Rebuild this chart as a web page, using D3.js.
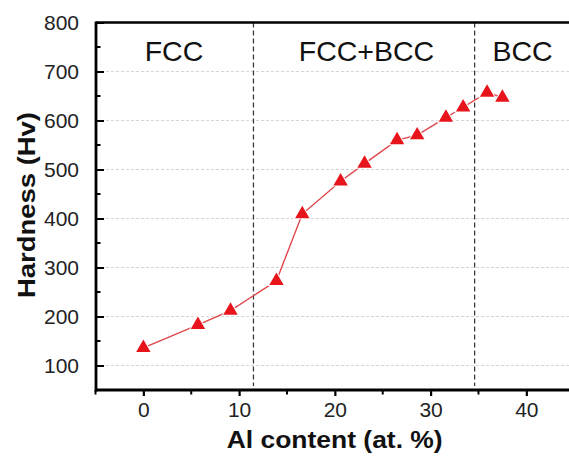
<!DOCTYPE html>
<html><head><meta charset="utf-8">
<script src="https://cdn.jsdelivr.net/npm/d3@7"></script>
<style>
html,body{margin:0;padding:0;background:#fff;}
svg{display:block;font-family:Arial,"Liberation Sans",sans-serif;}
</style></head>
<body>
<svg id="c" width="569" height="457"></svg>
<script>
const alContent = [0, 5.7, 9.1, 13.9, 16.6, 20.6, 23.1, 26.5, 28.6, 31.6, 33.4, 35.9, 37.5];
const hardness  = [136, 183, 212, 273, 409, 476, 512, 560, 570, 606, 627, 657, 647];
const xTicks = [0, 10, 20, 30, 40];
const yTicks = [100, 200, 300, 400, 500, 600, 700, 800];
const phaseBounds = [11.5, 34.6];
const phaseNames = ["FCC", "FCC+BCC", "BCC"];
const phaseLabelX = [3.2, 23.3, 39.6];

const svg = d3.select("#c");
const x = d3.scaleLinear().domain([-5, 45]).range([95.5, 574.2]);
const y = d3.scaleLinear().domain([50, 800]).range([390, 22.5]);
const L = 96, T = 22.5, B = 390, R = 574;

// gridlines
svg.append("g").selectAll("line").data(yTicks.filter(v => v < 800)).join("line")
  .attr("x1", L).attr("x2", R).attr("y1", d => y(d)).attr("y2", d => y(d))
  .attr("stroke", "#d6d6d6").attr("stroke-width", 1).attr("stroke-dasharray", "3,2");

// phase boundaries
svg.append("g").selectAll("line").data(phaseBounds).join("line")
  .attr("x1", d => x(d)).attr("x2", d => x(d)).attr("y1", T).attr("y2", B - 4)
  .attr("stroke", "#333").attr("stroke-width", 1.2).attr("stroke-dasharray", "5,3");

// phase labels
svg.append("g").selectAll("text").data(phaseNames).join("text")
  .attr("x", (d, i) => x(phaseLabelX[i])).attr("y", 61)
  .attr("text-anchor", "middle").attr("font-size", 28.5).attr("fill", "#111")
  .text(d => d);

// top border
svg.append("line").attr("x1", L).attr("x2", 569).attr("y1", T).attr("y2", T)
  .attr("stroke", "#000").attr("stroke-width", 2.5);

// x axis
const xAxis = d3.axisBottom(x).tickValues(xTicks).tickSize(6).tickPadding(6).tickFormat(d3.format("d"));
const gx = svg.append("g").attr("transform", `translate(0,${B})`).call(xAxis);
gx.select(".domain").remove();
gx.selectAll(".tick line").attr("stroke-width", 2.2);
gx.selectAll(".tick text").attr("font-size", 21).attr("fill", "#222").attr("font-family", "Arial, Liberation Sans, sans-serif");
const xMinor = d3.range(-5, 46, 5).filter(v => v % 10 !== 0);
svg.append("g").selectAll("line").data(xMinor).join("line")
  .attr("x1", d => x(d)).attr("x2", d => x(d)).attr("y1", B).attr("y2", B + 4.5)
  .attr("stroke", "#000").attr("stroke-width", 2);
svg.append("line").attr("x1", L - 1).attr("x2", 569).attr("y1", B).attr("y2", B)
  .attr("stroke", "#000").attr("stroke-width", 2.8);

// y axis
const yAxis = d3.axisLeft(y).tickValues(yTicks).tickSize(-8).tickPadding(17).tickFormat(d3.format("d"));
const gy = svg.append("g").attr("transform", `translate(${L},0)`).call(yAxis);
gy.select(".domain").remove();
gy.selectAll(".tick line").attr("stroke-width", 2);
gy.selectAll(".tick text").attr("font-size", 21).attr("fill", "#222").attr("font-family", "Arial, Liberation Sans, sans-serif");
const yMinor = d3.range(150, 800, 100);
svg.append("g").selectAll("line").data(yMinor).join("line")
  .attr("x1", L).attr("x2", L + 4.5).attr("y1", d => y(d)).attr("y2", d => y(d))
  .attr("stroke", "#000").attr("stroke-width", 2);
svg.append("line").attr("x1", L).attr("x2", L).attr("y1", T - 1).attr("y2", B + 1.4)
  .attr("stroke", "#000").attr("stroke-width", 2.8);

// data line
const pts = alContent.map((v, i) => [v, hardness[i]]);
svg.append("path").datum(pts)
  .attr("d", d3.line().x(d => x(d[0])).y(d => y(d[1])))
  .attr("fill", "none").attr("stroke", "#e0464a").attr("stroke-width", 1.4);

// markers
svg.append("g").selectAll("path").data(pts).join("path")
  .attr("transform", d => `translate(${x(d[0])},${y(d[1])})`)
  .attr("d", d3.symbol(d3.symbolTriangle, 90))
  .attr("fill", "#e8141c").attr("stroke", "#fff").attr("stroke-width", 2)
  .attr("paint-order", "stroke");

// axis titles
svg.append("text").attr("x", 334.7).attr("y", 448).attr("text-anchor", "middle")
  .attr("font-size", 23).attr("font-weight", "bold").attr("fill", "#111")
  .attr("textLength", 216).attr("lengthAdjust", "spacingAndGlyphs")
  .text("Al content (at. %)");
svg.append("text").attr("transform", "translate(35,205) rotate(-90)").attr("text-anchor", "middle")
  .attr("font-size", 24).attr("font-weight", "bold").attr("fill", "#111")
  .attr("textLength", 186).attr("lengthAdjust", "spacingAndGlyphs")
  .text("Hardness (Hv)");
</script>
</body></html>
